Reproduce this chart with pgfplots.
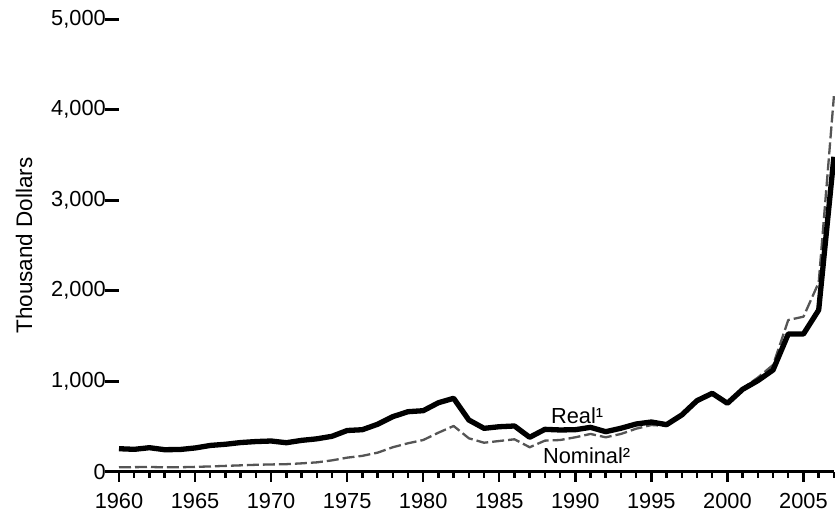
\documentclass[border=0pt]{standalone}
\usepackage{fontspec}
\setmainfont{Liberation Sans}
\usepackage{pgfplots}
\pgfplotsset{compat=1.18}
\definecolor{nomgray}{HTML}{555555}
\newcommand{\tickfont}{\fontsize{10.9bp}{12bp}\selectfont}
\pgfplotstableread{
year real nominal
1960 254 49
1961 247 50
1962 265 52
1963 243 48
1964 245 49
1965 262 53
1966 290 58
1967 303 64
1968 322 70
1969 333 76
1970 339 80
1971 320 83
1972 346 92
1973 363 103
1974 391 125
1975 455 155
1976 464 175
1977 524 210
1978 608 270
1979 663 314
1980 674 350
1981 762 431
1982 811 505
1983 571 369
1984 479 320
1985 497 339
1986 505 358
1987 380 270
1988 468 343
1989 461 350
1990 464 380
1991 490 417
1992 442 380
1993 480 417
1994 527 475
1995 549 516
1996 520 505
1997 627 615
1998 785 780
1999 866 866
2000 756 756
2001 910 920
2002 1006 1040
2003 1124 1180
2004 1522 1676
2005 1522 1713
2006 1787 2090
2007 3480 4150
}\datatable
\begin{document}
\begin{tikzpicture}
\begin{axis}[
  scale only axis, width=357.45bp, height=226.2bp,
  xmin=1960, xmax=2007, ymin=0, ymax=5000,
  clip=false,
  axis x line*=bottom, axis y line*=left,
  y axis line style={draw=none},
  x axis line style={line width=1.4bp, -},
  xtick={1960,1965,...,2005},
  minor xtick={1961,...,2007},
  ytick={0,1000,...,5000},
  tick align=outside,
  major tick length=5bp, minor tick length=3bp,
  xtick style={line width=1.2bp, black},
  ytick style={line width=1.5bp, black, /pgfplots/major tick length=7bp},
  xticklabels={1960,1965,1970,1975,1980,1985,1990,1995,2000,2005},
  yticklabels={0,{5,000},{4,000},{3,000},{2,000},{1,000}},
  yticklabels={0,{1,000},{2,000},{3,000},{4,000},{5,000}},
  xticklabel style={font=\tickfont, yshift=-2.2bp},
  yticklabel style={font=\tickfont, xshift=1.9bp},
  every axis y label/.style={at={(rel axis cs:-0.1329,0.5)}, rotate=90, anchor=center, font=\fontsize{11.25bp}{13bp}\selectfont},
  ylabel={Thousand Dollars},
]
\addplot[nomgray, line width=1.15bp, dash pattern=on 6bp off 2bp, line join=round] table[x=year, y=nominal] {\datatable};
\addplot[black, line width=2.65bp, line join=round] table[x=year, y=real] {\datatable};
\node[anchor=base west, font=\tickfont, inner sep=0pt] at (axis cs:1988.38,535) {Real¹};
\node[anchor=base west, font=\tickfont, inner sep=0pt] at (axis cs:1987.85,93) {Nominal²};
\coordinate (bl) at (rel axis cs:0,0);
\coordinate (tr) at (rel axis cs:1,1);
\end{axis}
\pgfresetboundingbox
\path ([shift={(-59.5bp,-20.15bp)}]bl) rectangle ([shift={(0.55bp,9.65bp)}]tr);
\end{tikzpicture}
\end{document}
